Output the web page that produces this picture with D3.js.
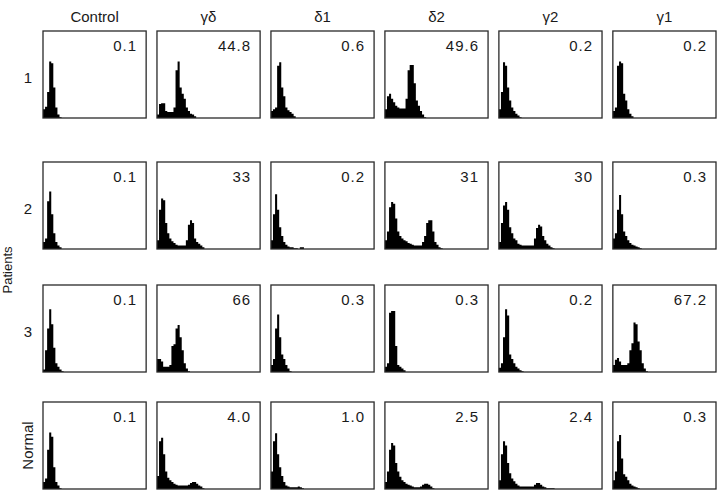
<!DOCTYPE html>
<html lang="en">
<head>
<meta charset="utf-8">
<title>Patients histograms</title>
<style>
  body { margin: 0; background: #fff; }
  text { font-family: "Liberation Sans", Arial, sans-serif; fill: #1a1a1a; }
  .box { fill: none; stroke: #2a2a2a; stroke-width: 1.3; }
  .hist { fill: #000; }
  .pct { font-size: 15px; letter-spacing: 1px; }
  .collabel { font-size: 15px; }
  .rowlabel { font-size: 15px; }
</style>
<script src="https://d3js.org/d3.v7.min.js"></script>
</head>
<body>
<svg id="chart" width="720" height="495"></svg>
<script>
// column and row headers
var columns = ["Control", "\u03b3\u03b4", "\u03b41", "\u03b42", "\u03b32", "\u03b31"];
var rows = ["1", "2", "3", "Normal"];

// percent shown in the corner of each panel (one array per row)
var pct1 = ["0.1", "44.8", "0.6", "49.6", "0.2", "0.2"];
var pct2 = ["0.1", "33", "0.2", "31", "30", "0.3"];
var pct3 = ["0.1", "66", "0.3", "0.3", "0.2", "67.2"];
var pctN = ["0.1", "4.0", "1.0", "2.5", "2.4", "0.3"];

// histogram heights (% of panel height) per bin, bins are 1/50 of the axis
var hist1 = [
  [10, 13, 30, 65, 63, 35, 12, 4, 1],
  [4, 16, 17, 17, 8, 7, 7, 7, 12, 55, 65, 35, 28, 22, 12, 8, 5, 4, 2],
  [8, 10, 12, 60, 64, 35, 25, 12, 9, 7, 5, 2],
  [10, 25, 28, 22, 18, 14, 12, 11, 11, 11, 22, 55, 61, 61, 40, 20, 14, 8, 4, 1],
  [10, 30, 64, 60, 35, 20, 12, 8, 5, 3, 1],
  [8, 12, 60, 65, 63, 28, 20, 10, 5, 2]
];
var hist2 = [
  [8, 12, 55, 66, 40, 18, 8, 4, 2],
  [10, 45, 58, 56, 30, 18, 12, 9, 7, 5, 4, 4, 4, 4, 10, 28, 33, 30, 12, 8, 6, 4, 2],
  [10, 40, 63, 45, 25, 15, 8, 5, 3, 2, 2, 1, 1, 0, 2, 2],
  [10, 20, 48, 54, 52, 35, 20, 15, 12, 10, 9, 7, 6, 5, 4, 4, 4, 4, 8, 15, 30, 33, 33, 20, 8, 5, 2, 1],
  [8, 30, 50, 54, 45, 25, 18, 12, 10, 6, 5, 4, 4, 4, 4, 4, 4, 12, 24, 28, 26, 15, 10, 6, 4, 2, 1],
  [12, 18, 45, 62, 40, 20, 15, 10, 7, 5, 4, 3, 2, 1]
];
var hist3 = [
  [3, 25, 50, 72, 55, 28, 10, 6, 3, 1],
  [15, 15, 12, 6, 6, 6, 8, 30, 32, 50, 54, 40, 25, 10, 4, 1],
  [8, 15, 50, 66, 40, 20, 15, 8, 4, 1],
  [6, 10, 68, 70, 70, 30, 8, 6, 4, 2],
  [5, 10, 40, 72, 65, 20, 15, 10, 6, 4, 2, 1],
  [8, 14, 16, 12, 8, 8, 8, 10, 25, 33, 57, 55, 35, 25, 10, 4, 1]
];
var histN = [
  [8, 12, 45, 65, 60, 25, 8, 4, 1],
  [15, 55, 59, 40, 20, 13, 10, 8, 6, 5, 4, 4, 4, 4, 4, 5, 7, 8, 8, 6, 4, 3, 1],
  [20, 55, 64, 40, 25, 15, 8, 4, 3, 2, 2, 2, 2, 3, 2, 1],
  [8, 20, 45, 53, 50, 30, 20, 14, 10, 8, 6, 5, 4, 3, 2, 2, 2, 3, 5, 6, 6, 5, 3, 1],
  [10, 40, 55, 50, 30, 18, 12, 9, 6, 4, 3, 3, 3, 3, 3, 3, 3, 5, 7, 7, 5, 3, 2, 1, 1, 1, 1],
  [10, 20, 55, 62, 35, 17, 14, 10, 6, 4, 3, 2, 1]
];

var pctRows = [pct1, pct2, pct3, pctN];
var histRows = [hist1, hist2, hist3, histN];

var nBins = 50;
var rowTops = [31, 162, 285, 402];
var panelH = 87;

var svg = d3.select("#chart");

// column positions
var xCol = d3.scaleBand()
    .domain(columns)
    .range([43, 716])
    .paddingInner(0.095)
    .paddingOuter(0);
var panelW = xCol.bandwidth();

// scales inside one panel
var xBin = d3.scaleLinear().domain([0, nBins]).range([0, panelW]);
var yVal = d3.scaleLinear().domain([0, 100]).range([panelH, 0]);

var area = d3.area()
    .x(function(d, i) { return xBin(i); })
    .y0(panelH)
    .y1(function(d) { return yVal(d); })
    .curve(d3.curveStepAfter);

// column headers
svg.selectAll(".collabel")
    .data(columns)
  .enter().append("text")
    .attr("class", "collabel")
    .attr("x", function(d) { return xCol(d) + panelW / 2; })
    .attr("y", 22)
    .attr("text-anchor", "middle")
    .text(function(d) { return d; });

// panels
rows.forEach(function(r, ri) {
  var top = rowTops[ri];

  // row label
  if (r == "Normal") {
    svg.append("text")
      .attr("class", "rowlabel")
      .attr("transform", "translate(33," + (top + panelH / 2) + ") rotate(-90)")
      .attr("text-anchor", "middle")
      .text(r);
  } else {
    svg.append("text")
      .attr("class", "rowlabel")
      .attr("x", 28)
      .attr("y", top + panelH / 2 + 8)
      .attr("text-anchor", "middle")
      .text(r);
  }

  columns.forEach(function(c, ci) {
    var g = svg.append("g")
        .attr("transform", "translate(" + xCol(c) + "," + top + ")");

    var vals = histRows[ri][ci].concat([0]);
    g.append("path")
        .attr("class", "hist")
        .attr("d", area(vals));

    g.append("rect")
        .attr("class", "box")
        .attr("width", panelW)
        .attr("height", panelH);

    g.append("text")
        .attr("class", "pct")
        .attr("x", panelW - 9)
        .attr("y", 20)
        .attr("text-anchor", "end")
        .text(pctRows[ri][ci]);
  });
});

// side title
svg.append("text")
    .attr("class", "rowlabel")
    .attr("transform", "translate(12,270) rotate(-90)")
    .attr("text-anchor", "middle")
    .style("font-size", "13px")
    .text("Patients");
</script>
</body>
</html>
